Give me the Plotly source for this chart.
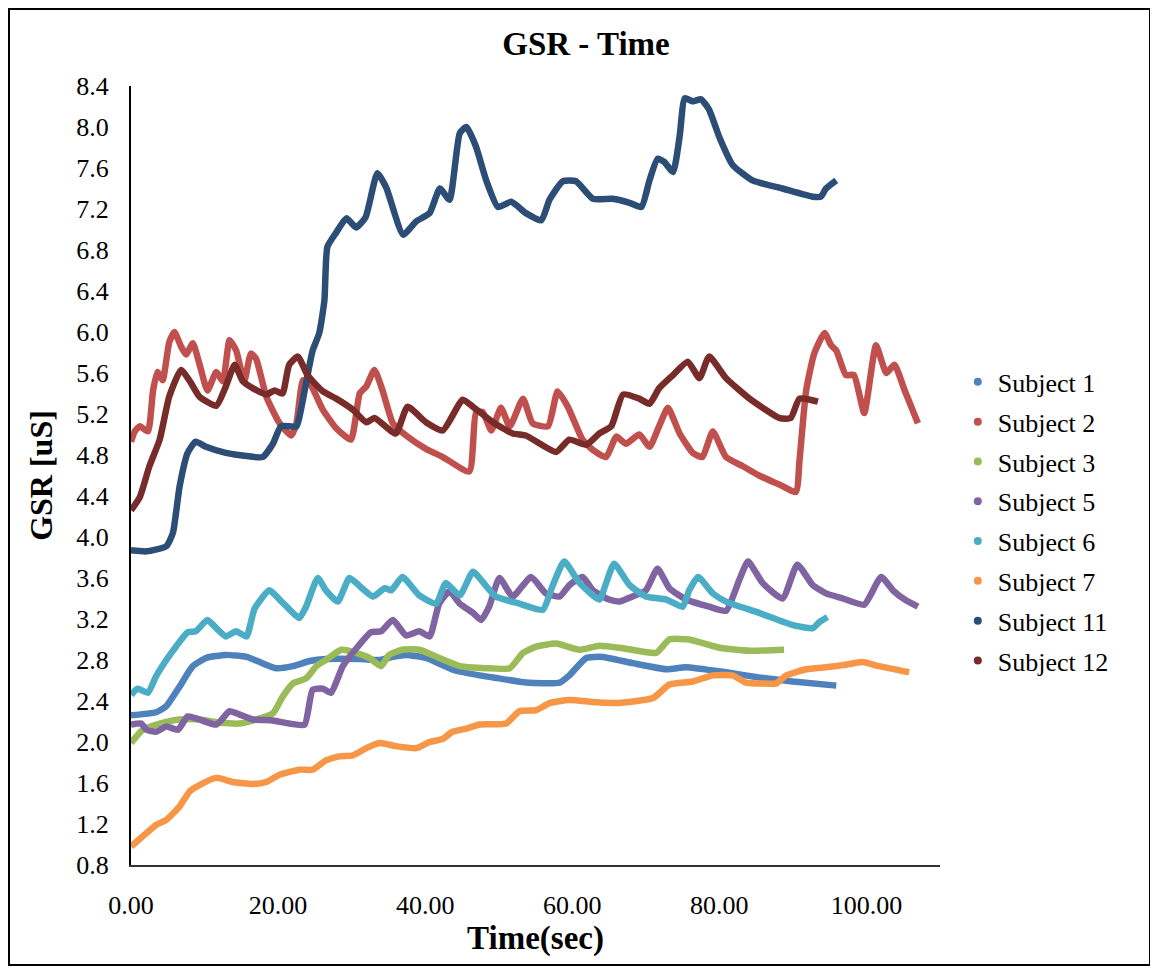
import plotly.graph_objects as go

# GSR readings per subject (time in sec, GSR in uS)
s1_t = [0, 3.4, 4.8, 6.6, 8.4, 10.2, 12.9, 15.7, 17.5, 19.7, 22.0, 24.3, 26.5, 31.1, 33.8, 35.6,
        37.4, 40.1, 44.0, 47.4, 49.2, 53.7, 58.3, 59.6, 61.9, 64.1, 68.2, 72.8, 75.5, 80.9, 85.4,
        90.0, 95.9]
s1_v = [2.26, 2.29, 2.35, 2.54, 2.74, 2.82, 2.85, 2.83, 2.78, 2.72, 2.74, 2.79, 2.81, 2.81, 2.80, 2.83,
        2.85, 2.82, 2.70, 2.65, 2.63, 2.58, 2.58, 2.65, 2.82, 2.83, 2.77, 2.71, 2.73, 2.68, 2.63,
        2.59, 2.55]

s2_t = [0, 0.5, 1.2, 2.3, 3.0, 3.6, 4.3, 5.2, 5.9, 6.8, 7.5, 8.4, 9.3, 10.4, 11.6, 12.5, 13.4, 14.3,
        15.4, 16.3, 17.0, 18.4, 20.2, 21.8, 22.5, 23.4, 24.3, 26.1, 27.9, 29.9, 31.1, 32.0, 33.1, 34.2,
        35.6, 37.4, 40.1, 42.4, 46.0, 46.9, 47.8, 49.0, 50.3, 51.5, 53.3, 54.6, 56.7, 58.0, 59.4, 61.4,
        62.8, 64.6, 66.0, 67.3, 69.1, 70.5, 71.8, 73.0, 74.6, 76.4, 77.7, 79.1, 80.9, 83.2, 85.4, 88.2,
        90.4, 90.9, 91.8, 92.9, 94.3, 95.2, 95.9, 97.2, 98.3, 99.7, 101.3, 102.7, 103.8, 105.2, 107.0]
s2_v = [4.93, 5.03, 5.08, 5.03, 5.43, 5.61, 5.53, 5.90, 6.00, 5.86, 5.78, 5.89, 5.69, 5.43, 5.61, 5.52, 5.92, 5.82,
        5.52, 5.79, 5.74, 5.37, 5.11, 4.99, 5.11, 5.53, 5.50, 5.24, 5.06, 4.95, 5.40, 5.47, 5.63, 5.43,
        5.11, 4.99, 4.86, 4.78, 4.64, 5.21, 5.22, 5.04, 5.26, 5.08, 5.35, 5.11, 5.08, 5.42, 5.27, 4.95,
        4.85, 4.78, 4.98, 4.91, 5.00, 4.88, 5.08, 5.26, 5.01, 4.82, 4.78, 5.03, 4.78, 4.69, 4.60, 4.51,
        4.44, 4.75, 5.43, 5.79, 5.99, 5.87, 5.82, 5.58, 5.58, 5.21, 5.87, 5.60, 5.68, 5.43, 5.11]

s3_t = [0, 1.6, 3.9, 6.6, 9.3, 12.0, 14.7, 17.5, 19.3, 20.6, 22.0, 23.8, 25.2, 26.5, 28.6, 30.2, 32.4,
        34.0, 35.1, 36.9, 39.2, 41.9, 44.7, 48.3, 51.5, 53.3, 55.1, 57.8, 61.0, 63.7, 67.3, 71.4, 73.2,
        75.9, 80.0, 84.1, 88.8]
s3_v = [1.99, 2.12, 2.18, 2.22, 2.22, 2.19, 2.18, 2.23, 2.28, 2.44, 2.57, 2.62, 2.74, 2.80, 2.90, 2.88, 2.82,
        2.74, 2.85, 2.90, 2.90, 2.82, 2.74, 2.72, 2.72, 2.87, 2.93, 2.96, 2.90, 2.94, 2.91, 2.87, 3.00,
        3.00, 2.92, 2.89, 2.90]

s5_t = [0, 1.4, 2.1, 3.4, 4.8, 6.4, 7.7, 9.3, 11.6, 13.4, 14.7, 16.6, 19.3, 21.5, 23.6, 24.7, 26.1, 27.2,
        28.8, 30.6, 32.6, 34.0, 35.6, 37.4, 39.2, 40.6, 41.9, 43.3, 44.7, 46.5, 47.6, 48.7, 50.1, 51.9,
        54.4, 56.4, 58.3, 59.6, 61.4, 62.8, 65.0, 66.4, 68.2, 70.0, 71.6, 73.2, 75.5, 78.6, 80.9, 82.7,
        83.9, 85.9, 88.6, 90.6, 92.7, 94.5, 96.8, 99.7, 102.0, 103.6, 105.2, 107.0]
s5_v = [2.17, 2.18, 2.12, 2.10, 2.15, 2.12, 2.25, 2.22, 2.17, 2.30, 2.27, 2.22, 2.21, 2.18, 2.17, 2.51, 2.52, 2.48,
        2.74, 2.91, 3.07, 3.08, 3.19, 3.04, 3.08, 3.03, 3.35, 3.47, 3.35, 3.26, 3.19, 3.32, 3.60, 3.42,
        3.61, 3.45, 3.42, 3.53, 3.61, 3.48, 3.39, 3.37, 3.42, 3.48, 3.69, 3.50, 3.39, 3.32, 3.28, 3.58,
        3.76, 3.55, 3.40, 3.73, 3.53, 3.45, 3.40, 3.34, 3.61, 3.48, 3.39, 3.32]

s6_t = [0, 0.9, 2.3, 3.4, 4.8, 6.1, 7.7, 8.8, 10.4, 11.6, 12.9, 14.3, 15.7, 16.8, 18.8, 20.2, 22.0, 22.9,
        23.8, 25.4, 26.5, 28.1, 29.7, 31.1, 32.9, 34.5, 35.4, 36.9, 39.2, 41.5, 42.8, 44.7, 46.5, 48.3,
        49.6, 52.8, 56.0, 57.3, 58.9, 61.0, 63.7, 64.6, 65.7, 67.8, 70.0, 72.8, 75.0, 75.9, 77.1, 79.1,
        80.9, 85.4, 90.0, 92.7, 93.6, 94.7]
s6_v = [2.46, 2.52, 2.48, 2.64, 2.80, 2.93, 3.07, 3.08, 3.19, 3.11, 3.03, 3.08, 3.03, 3.30, 3.48, 3.39, 3.26, 3.21,
        3.32, 3.60, 3.48, 3.37, 3.60, 3.52, 3.42, 3.50, 3.48, 3.61, 3.43, 3.35, 3.55, 3.43, 3.66, 3.52,
        3.42, 3.35, 3.29, 3.52, 3.76, 3.55, 3.39, 3.55, 3.74, 3.53, 3.42, 3.39, 3.32, 3.48, 3.61, 3.45,
        3.37, 3.26, 3.14, 3.11, 3.17, 3.22]

s7_t = [0, 1.6, 3.4, 4.8, 6.6, 8.0, 9.3, 11.6, 13.8, 16.6, 18.4, 20.2, 22.9, 24.7, 26.5, 28.3, 30.2, 32.0,
        33.8, 36.0, 38.8, 40.6, 42.4, 43.7, 45.6, 47.4, 51.0, 52.8, 55.1, 56.9, 59.6, 62.8, 66.0, 71.0,
        73.2, 76.4, 79.1, 81.8, 83.6, 86.3, 87.7, 89.1, 91.8, 94.5, 96.8, 99.5, 101.7, 105.8]
s7_v = [0.98, 1.08, 1.19, 1.24, 1.37, 1.52, 1.58, 1.65, 1.61, 1.59, 1.61, 1.68, 1.73, 1.73, 1.82, 1.86, 1.87, 1.94,
        1.99, 1.96, 1.94, 2.00, 2.03, 2.10, 2.13, 2.17, 2.18, 2.30, 2.31, 2.38, 2.41, 2.39, 2.38, 2.43,
        2.56, 2.59, 2.65, 2.65, 2.58, 2.57, 2.57, 2.65, 2.71, 2.73, 2.75, 2.78, 2.74, 2.68]

s11_t = [0, 2.1, 4.8, 5.7, 6.6, 7.7, 8.8, 10.2, 12.9, 15.7, 17.9, 19.3, 20.4, 22.5, 23.1, 23.8, 24.7, 25.6,
         26.3, 26.7, 27.9, 29.3, 30.6, 31.9, 33.5, 34.7, 37.0, 38.8, 40.6, 42.0, 43.3, 44.7, 45.6, 46.9,
         48.3, 49.9, 51.7, 53.7, 55.8, 56.9, 58.7, 60.5, 62.8, 65.5, 67.8, 69.4, 70.5, 71.6, 72.5, 73.7,
         74.6, 75.3, 76.4, 77.5, 78.6, 80.0, 81.8, 84.5, 88.6, 92.7, 93.8, 94.5, 95.9]
s11_v = [3.87, 3.86, 3.91, 4.04, 4.49, 4.82, 4.93, 4.88, 4.82, 4.79, 4.78, 4.91, 5.08, 5.08, 5.24, 5.50, 5.82, 5.99,
         6.31, 6.83, 6.97, 7.11, 7.02, 7.12, 7.55, 7.41, 6.95, 7.08, 7.16, 7.40, 7.29, 7.94, 8.00, 7.81,
         7.48, 7.22, 7.27, 7.16, 7.09, 7.29, 7.47, 7.47, 7.30, 7.30, 7.26, 7.22, 7.48, 7.69, 7.66, 7.56,
         7.91, 8.28, 8.25, 8.27, 8.17, 7.90, 7.63, 7.48, 7.40, 7.32, 7.32, 7.40, 7.48]

s12_t = [0, 1.2, 2.5, 3.9, 5.2, 6.8, 8.0, 9.3, 11.6, 12.9, 14.1, 15.2, 16.6, 18.4, 19.5, 20.6, 21.5, 22.7,
         24.0, 26.1, 27.9, 30.2, 32.0, 33.1, 36.0, 37.6, 40.1, 42.4, 45.1, 46.5, 49.2, 51.9, 53.7, 57.8,
         59.6, 61.9, 63.7, 65.3, 66.9, 69.1, 70.5, 71.8, 73.7, 75.7, 77.3, 78.6, 80.9, 84.1, 88.2, 89.7,
         90.9, 93.4]
s12_v = [4.26, 4.39, 4.69, 4.95, 5.37, 5.63, 5.52, 5.37, 5.28, 5.47, 5.68, 5.52, 5.45, 5.39, 5.43, 5.40, 5.68, 5.76,
         5.58, 5.42, 5.35, 5.24, 5.12, 5.16, 5.01, 5.27, 5.12, 5.04, 5.34, 5.27, 5.12, 5.01, 4.99, 4.83,
         4.95, 4.90, 5.01, 5.08, 5.39, 5.35, 5.30, 5.45, 5.58, 5.71, 5.55, 5.76, 5.55, 5.35, 5.16, 5.16,
         5.35, 5.32]

names = ["Subject 1", "Subject 2", "Subject 3", "Subject 5", "Subject 6", "Subject 7", "Subject 11", "Subject 12"]
times = [s1_t, s2_t, s3_t, s5_t, s6_t, s7_t, s11_t, s12_t]
values = [s1_v, s2_v, s3_v, s5_v, s6_v, s7_v, s11_v, s12_v]
colours = ["#4F81BD", "#C0504D", "#9BBB59", "#8064A2", "#4BACC6", "#F79646", "#2C4D75", "#772C2A"]

FONT = "Liberation Serif, Times New Roman, serif"

fig = go.Figure()

for name, t, v, c in zip(names, times, values, colours):
    fig.add_trace(go.Scatter(
        x=t, y=v, mode="lines", name=name, showlegend=False, legendgroup=name,
        line=dict(color=c, width=6.5, shape="spline", smoothing=0.5)
    ))

# legend entries shown as dots, like the original
for name, c in zip(names, colours):
    fig.add_trace(go.Scatter(
        x=[None], y=[None], mode="markers", name=name, legendgroup=name,
        marker=dict(color=c, size=8)
    ))

# page body adds an 8px offset, so the figure is a bit smaller than the window
fig.update_layout(
    width=1150,
    height=964,
    paper_bgcolor="white",
    plot_bgcolor="white",
    margin=dict(l=123, r=218, t=78, b=107),
    font=dict(family=FONT, color="#000000", size=26),
    title=dict(
        text="<b>GSR - Time</b>",
        font=dict(family=FONT, size=33, color="#000000"),
        x=0.5026, xref="container", xanchor="center",
        y=0.9637, yref="container", yanchor="middle"
    ),
    legend=dict(
        x=1.022, xanchor="left",
        y=0.441, yanchor="middle",
        font=dict(family=FONT, size=26, color="#000000"),
        bgcolor="rgba(0,0,0,0)",
        tracegroupgap=3
    ),
    shapes=[dict(
        type="rect", xref="paper", yref="paper",
        x0=-0.1508, x1=1.2596, y0=-0.1284, y1=1.0989,
        line=dict(color="#000000", width=2)
    )]
)

fig.update_xaxes(
    range=[0, 110],
    tickmode="linear", tick0=0, dtick=20, tickformat=".2f",
    showgrid=False, zeroline=False,
    showline=True, linewidth=2, linecolor="#333333",
    ticks="", ticklabelstandoff=16,
    automargin=False,
    title=dict(text="<b>Time(sec)</b>", font=dict(family=FONT, size=33), standoff=6)
)
fig.update_yaxes(
    range=[0.8, 8.4],
    tickmode="linear", tick0=0.8, dtick=0.4, tickformat=".1f",
    showgrid=False, zeroline=False,
    showline=True, linewidth=2, linecolor="#000000",
    ticks="", ticklabelstandoff=15,
    automargin=False,
    title=dict(text="<b>GSR [uS]</b>", font=dict(family=FONT, size=32), standoff=14)
)

fig.write_html("out.html")
